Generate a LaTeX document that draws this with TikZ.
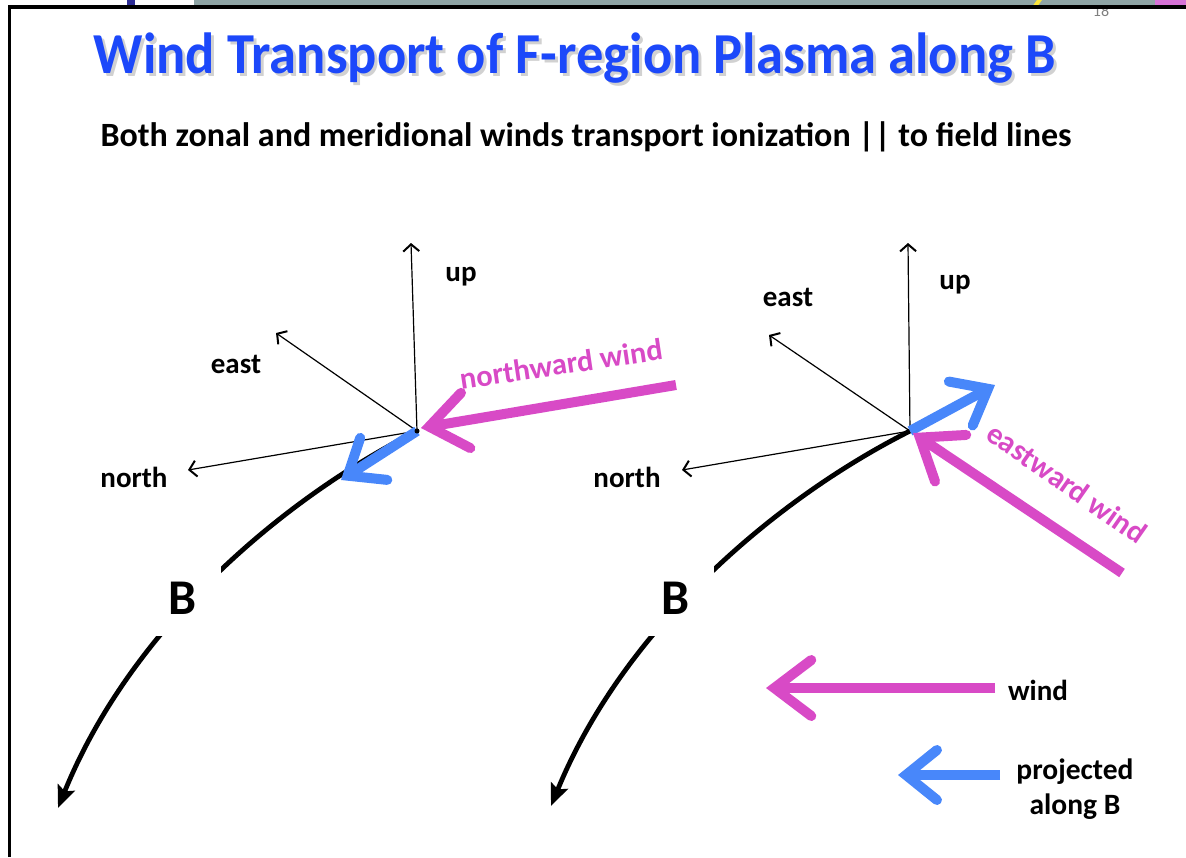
\documentclass[tikz,border=0pt]{standalone}
\usepackage{fontspec}
\setmainfont{Carlito}
\usetikzlibrary{arrows.meta}

\definecolor{windpink}{RGB}{216,74,198}
\definecolor{projblue}{RGB}{72,135,250}
\definecolor{titleblue}{RGB}{28,72,250}
\definecolor{bargray}{RGB}{143,165,166}
\definecolor{tabnavy}{RGB}{45,45,150}
\definecolor{tabpink}{RGB}{215,115,215}
\definecolor{tabyellow}{RGB}{250,230,60}

\tikzset{
  lbl/.style={font=\bfseries\fontsize{29}{34}\selectfont, inner sep=0pt, anchor=base},
  windlbl/.style={font=\bfseries\fontsize{30.5}{36}\selectfont, inner sep=0pt, text=windpink},
  axis/.style={line width=1.2pt, -{Straight Barb[length=7pt,width=16pt,line width=2pt]}},
  field/.style={line width=4.8pt, -{Stealth[length=22pt,width=18pt,inset=4pt]}},
  windarrow/.style={windpink, line width=10pt,
    -{Straight Barb[length=37pt,width=56pt,line cap=round,line join=miter]}},
  projarrow/.style={projblue, line width=10pt,
    -{Straight Barb[length=31pt,width=50pt,line cap=round,line join=miter]}},
  blabel/.style={fill=white, minimum width=76pt, minimum height=76pt, inner sep=0pt,
    font=\bfseries\fontsize{50}{60}\selectfont},
  titletext/.style={inner sep=0pt, anchor=base, font=\bfseries\fontsize{58}{66}\selectfont}
}
\newcommand{\slidetitle}{\scalebox{0.94}[1]{Wind Transport of F-region Plasma along B}}

\begin{document}
\begin{tikzpicture}[x=1pt,y=-1pt]
\useasboundingbox (0,0) rectangle (1186,857);

% slide edge strip
\fill[tabnavy] (127,0) rectangle (135,5);
\fill[bargray] (194,0) rectangle (1186,5.5);
\fill[tabyellow] (1033,5.5) -- (1037,0) -- (1042,0) -- (1038,5.5) -- cycle;
\fill[tabpink] (1155,0) rectangle (1186,5.5);
\node[inner sep=0pt, anchor=base, text=gray, font=\fontsize{16}{18}\selectfont] (pageno) at (1101,16) {18};
\draw[line width=3.5pt] (9.5,857) -- (9.5,7) -- (1186,7);

% title with its shadow, and subtitle
\node[titletext, text=black!30, opacity=0.6] (titleshadow) at (578,76) {\slidetitle};
\node[titletext, text=titleblue] (title) at (575,73) {\slidetitle};
\node[inner sep=0pt, anchor=base, font=\bfseries\fontsize{34}{40}\selectfont] (subtitle) at (586,146) {Both zonal and meridional winds transport ionization || to field lines};

% ---------- left frame: northward wind ----------
\coordinate (O1) at (417,431);
\coordinate (B1end) at (58,808);
\coordinate (up1) at (411,243);
\coordinate (east1) at (276,333);
\coordinate (north1) at (188,470);
\coordinate (proj1) at (341,480);
\coordinate (nwtail) at (676,385);
\coordinate (nwtip) at (421,428);

\draw[field] (O1) .. controls (280,500) and (130,630) .. (B1end);
\node[blabel] (B1) at (183,598) {B};
\draw[axis] (O1) -- (up1);
\draw[axis] (O1) -- (east1);
\draw[axis] (O1) -- (north1);
\draw[projarrow] (O1) -- (proj1);
\draw[windarrow] (nwtail) -- (nwtip);
\fill (O1) circle (2.5pt);

\node[lbl] (uplbl1) at (461,281) {up};
\node[lbl] (eastlbl1) at (236,373) {east};
\node[lbl] (northlbl1) at (134,487) {north};
\node[windlbl, rotate=8.5] (nwlbl) at (561,364) {northward wind};

% ---------- right frame: eastward wind ----------
\coordinate (O2) at (910,431);
\coordinate (B2end) at (551,806);
\coordinate (up2) at (908,243);
\coordinate (east2) at (769,335);
\coordinate (north2) at (682,470);
\coordinate (proj2) at (995,385);
\coordinate (ewtail) at (1122,573);
\coordinate (ewtip) at (913,433);

\draw[field] (O2) .. controls (773,500) and (623,630) .. (B2end);
\node[blabel] (B2) at (676,598) {B};
\draw[axis] (O2) -- (up2);
\draw[axis] (O2) -- (east2);
\draw[axis] (O2) -- (north2);
\draw[projarrow] (O2) -- (proj2);
\draw[windarrow] (ewtail) -- (ewtip);

\node[lbl] (uplbl2) at (955,289) {up};
\node[lbl] (eastlbl2) at (788,306) {east};
\node[lbl] (northlbl2) at (627,487) {north};
\node[windlbl, rotate=-35] (ewlbl) at (1067,483) {eastward wind};

% ---------- legend ----------
\coordinate (lwtail) at (995,688);
\coordinate (lwtip) at (766,688);
\coordinate (lptail) at (1000,775);
\coordinate (lptip) at (898,775);
\draw[windarrow] (lwtail) -- (lwtip);
\draw[projarrow] (lptail) -- (lptip);
\node[lbl] (windkey) at (1038,700) {wind};
\node[inner sep=0pt, align=center, font=\bfseries\fontsize{29.5}{35}\selectfont] (projkey) at (1075,789) {projected\\along B};
\end{tikzpicture}
\end{document}
